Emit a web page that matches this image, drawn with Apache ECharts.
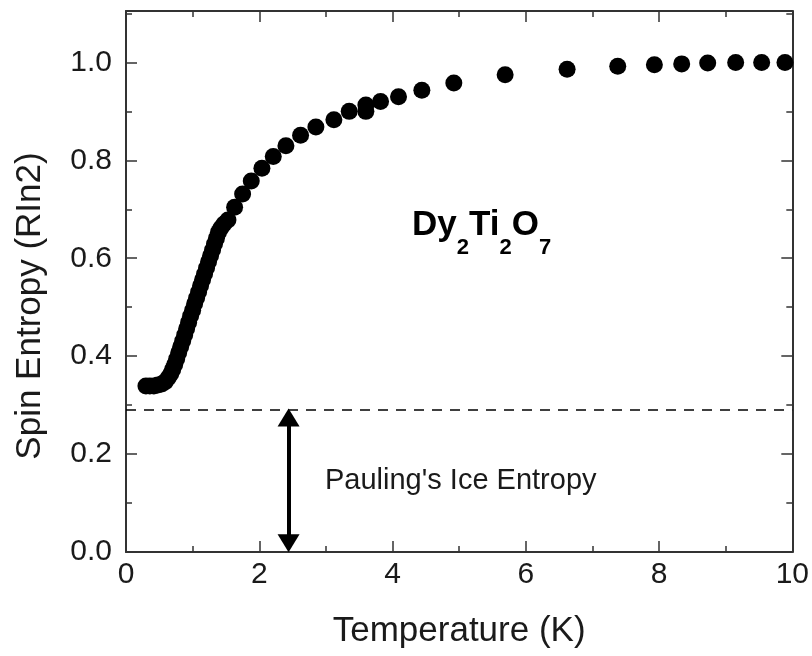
<!DOCTYPE html>
<html>
<head>
<meta charset="utf-8">
<script src="https://cdn.jsdelivr.net/npm/echarts@6/dist/echarts.min.js"></script>
<style>
  html, body { margin: 0; padding: 0; background: #fff; }
  #chart { width: 812px; height: 656px; }
</style>
</head>
<body>
<div id="chart"></div>
<script>
// Spin entropy of Dy2Ti2O7 versus temperature
const temperature = [
  0.299, 0.358, 0.418, 0.478, 0.537, 0.590, 0.634, 0.672, 0.701, 0.731,
  0.761, 0.791, 0.821, 0.851, 0.881, 0.910, 0.940, 0.970, 1.000, 1.030,
  1.060, 1.090, 1.119, 1.149, 1.179, 1.209, 1.239, 1.269, 1.299, 1.328,
  1.358, 1.388, 1.425, 1.470, 1.53, 1.63, 1.75, 1.88, 2.04, 2.21,
  2.40, 2.62, 2.85, 3.12, 3.35, 3.60, 3.60, 3.82, 4.09, 4.44,
  4.92, 5.69, 6.62, 7.38, 7.93, 8.34, 8.73, 9.15, 9.54, 9.89
];
const entropy = [
  0.339, 0.339, 0.339, 0.341, 0.343, 0.348, 0.356, 0.364, 0.373, 0.383,
  0.394, 0.407, 0.419, 0.431, 0.443, 0.456, 0.469, 0.482, 0.494, 0.507,
  0.519, 0.531, 0.544, 0.556, 0.568, 0.580, 0.593, 0.605, 0.617, 0.629,
  0.641, 0.653, 0.662, 0.670, 0.678, 0.704, 0.731, 0.758, 0.784, 0.808,
  0.830, 0.851, 0.868, 0.883, 0.900, 0.913, 0.900, 0.920, 0.930, 0.943,
  0.958, 0.975, 0.986, 0.992, 0.995, 0.997, 0.999, 1.000, 1.000, 1.000
];
const xTickLabels = [0, 2, 4, 6, 8, 10];
const yTickLabels = [0.0, 0.2, 0.4, 0.6, 0.8, 1.0];
const paulingEntropy = 0.2925;   // (1/2) ln(3/2) in units of R ln2
const arrowTemperature = 2.44;

const FONT = 'Liberation Sans, Arial, Helvetica, sans-serif';
const AXIS_COLOR = '#333';
const TEXT_COLOR = '#1a1a1a';

const points = temperature.map((t, i) => [t, entropy[i]]);

const chart = echarts.init(document.getElementById('chart'), null, { renderer: 'canvas' });

const grid = { left: 126, right: 16, top: 11, bottom: 104, containLabel: false };

function xAxisBase(position, showLabels) {
  return {
    type: 'value', position, min: 0, max: 10, interval: 2,
    axisLine: { show: true, onZero: false, lineStyle: { color: AXIS_COLOR, width: 2 } },
    axisTick: { show: true, inside: true, length: 11, lineStyle: { color: AXIS_COLOR, width: 1.5 } },
    minorTick: { show: true, splitNumber: 2, length: 6, lineStyle: { color: AXIS_COLOR, width: 1.5 } },
    splitLine: { show: false },
    axisLabel: {
      show: showLabels, fontSize: 30, fontFamily: FONT, color: TEXT_COLOR, margin: 8,
      formatter: v => (xTickLabels.includes(v) ? String(v) : '')
    }
  };
}

function yAxisMajor(position, showLabels) {
  return {
    type: 'value', position, min: 0, max: 1.105, interval: 0.2,
    axisLine: { show: true, onZero: false, lineStyle: { color: AXIS_COLOR, width: 2 } },
    axisTick: { show: true, inside: true, length: 11, lineStyle: { color: AXIS_COLOR, width: 1.5 } },
    splitLine: { show: false },
    axisLabel: {
      show: showLabels, fontSize: 30, fontFamily: FONT, color: TEXT_COLOR, margin: 14,
      formatter: v => {
        const hit = yTickLabels.find(t => Math.abs(t - v) < 1e-6);
        return hit === undefined ? '' : hit.toFixed(1);
      }
    }
  };
}

function yAxisMinor(position) {
  return {
    type: 'value', position, min: 0, max: 1.105, interval: 0.1,
    axisLine: { show: false, onZero: false },
    axisTick: { show: true, inside: true, length: 6, lineStyle: { color: AXIS_COLOR, width: 1.5 } },
    splitLine: { show: false },
    axisLabel: { show: false }
  };
}

const xBottom = Object.assign(xAxisBase('bottom', true), {
  name: 'Temperature (K)', nameLocation: 'middle', nameGap: 62,
  nameTextStyle: { fontSize: 35, fontFamily: FONT, color: TEXT_COLOR }
});

chart.setOption({
  animation: false,
  backgroundColor: '#fff',
  grid,
  xAxis: [xBottom, xAxisBase('top', false)],
  yAxis: [yAxisMajor('left', true), yAxisMajor('right', false), yAxisMinor('left'), yAxisMinor('right')],
  series: [
    {
      type: 'scatter',
      name: 'Dy2Ti2O7',
      data: points,
      symbol: 'circle',
      symbolSize: 17,
      itemStyle: { color: '#000', opacity: 1 },
      z: 5,
      markLine: {
        silent: true,
        animation: false,
        symbol: 'none',
        label: { show: false },
        data: [
          {
            yAxis: paulingEntropy,
            lineStyle: { type: [10, 8], color: '#000', width: 1.5 }
          },
          [
            { coord: [arrowTemperature, paulingEntropy - 0.018], symbol: 'triangle', symbolSize: [22, 18] },
            { coord: [arrowTemperature, 0.018], symbol: 'triangle', symbolSize: [22, 18] }
          ]
        ],
        lineStyle: { color: '#000', width: 4, type: 'solid' },
        itemStyle: { color: '#000' },
        emphasis: { disabled: true }
      }
    }
  ]
});

// Chemical formula with subscripts, laid out piece by piece
const measure = document.createElement('canvas').getContext('2d');
function textWidth(str, font) {
  measure.font = font;
  return measure.measureText(str).width;
}
const mainFont = 'bold 35px Liberation Sans';
const subFont = 'bold 22px Liberation Sans';
const formulaParts = [
  { t: 'Dy', sub: false }, { t: '2', sub: true },
  { t: 'Ti', sub: false }, { t: '2', sub: true },
  { t: 'O', sub: false }, { t: '7', sub: true }
];
const formula = [];
let cursor = 412;
formulaParts.forEach(p => {
  const font = p.sub ? subFont : mainFont;
  formula.push({
    type: 'text',
    x: cursor,
    y: p.sub ? 248 : 225,
    style: {
      text: p.t,
      font,
      fill: '#000',
      textAlign: 'left',
      textVerticalAlign: 'middle'
    }
  });
  cursor += textWidth(p.t, font);
});

chart.setOption({
  graphic: [
    {
      type: 'text',
      x: 30, y: 306,
      rotation: Math.PI / 2,
      style: {
        text: 'Spin Entropy (RIn2)',
        font: '35px Liberation Sans',
        fill: TEXT_COLOR,
        textAlign: 'center',
        textVerticalAlign: 'middle'
      }
    },
    {
      type: 'text',
      x: 325, y: 481,
      style: {
        text: "Pauling's Ice Entropy",
        font: '29px Liberation Sans',
        fill: TEXT_COLOR,
        textAlign: 'left',
        textVerticalAlign: 'middle'
      }
    },
    ...formula
  ]
});
</script>
</body>
</html>
